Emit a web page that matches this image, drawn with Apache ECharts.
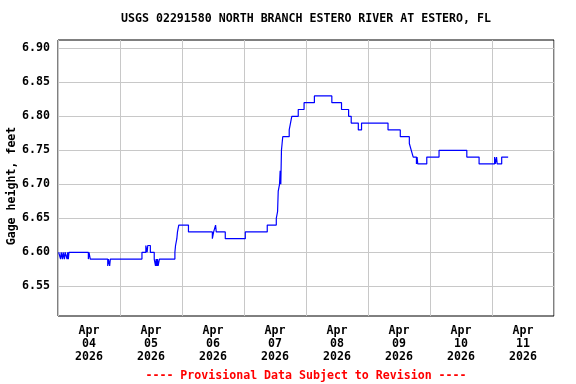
<!DOCTYPE html>
<html>
<head>
<meta charset="utf-8">
<script src="https://cdn.jsdelivr.net/npm/echarts@6/dist/echarts.min.js"></script>
<style>
html,body{margin:0;padding:0;background:#fff;}
#chart{width:576px;height:384px;}
</style>
</head>
<body>
<div id="chart"></div>
<script>
// Hours since Apr 04 2026 00:00 (change points of the step series)
const hours = [0.25,1.0,1.25,1.75,2.0,2.5,2.75,3.5,3.75,4.0,4.25,11.75,12.0,12.5,19.25,19.5,20.0,20.25,
  32.5,34.0,34.5,34.75,35.75,37.25,37.75,38.0,38.25,38.5,38.75,39.25,
  45.25,45.5,46.0,46.25,46.75,50.5,59.75,60.25,61.0,61.25,64.75,72.5,81.0,
  84.5,85.0,85.25,85.75,86.0,86.25,86.5,86.75,87.0,89.5,90.0,90.5,93.0,95.25,99.25,
  106.0,109.75,112.5,113.5,116.25,117.5,127.75,132.5,136.0,136.75,137.5,138.75,139.0,139.25,
  142.75,147.5,158.25,163.0,169.0,169.25,169.75,170.0,171.75,174.25];
const gage = [6.60,6.59,6.60,6.59,6.60,6.59,6.60,6.59,6.60,6.59,6.60,6.59,6.60,6.59,6.58,6.59,6.58,6.59,
  6.60,6.61,6.60,6.61,6.60,6.59,6.58,6.59,6.58,6.59,6.58,6.59,
  6.60,6.61,6.62,6.63,6.64,6.63,6.62,6.63,6.64,6.63,6.62,6.63,6.64,
  6.65,6.66,6.69,6.70,6.72,6.70,6.75,6.76,6.77,6.78,6.79,6.80,6.81,6.82,6.83,
  6.82,6.81,6.80,6.79,6.78,6.79,6.78,6.77,6.76,6.75,6.74,6.73,6.74,6.73,
  6.74,6.75,6.74,6.73,6.74,6.73,6.74,6.73,6.74,6.74];
const dayLabels = ['Apr\n04\n2026','Apr\n05\n2026','Apr\n06\n2026','Apr\n07\n2026','Apr\n08\n2026','Apr\n09\n2026','Apr\n10\n2026','Apr\n11\n2026'];
const yTicks = [6.55,6.60,6.65,6.70,6.75,6.80,6.85,6.90];
const titleText = 'USGS 02291580 NORTH BRANCH ESTERO RIVER AT ESTERO, FL';
const footerText = '---- Provisional Data Subject to Revision ----';
const yName = 'Gage height, feet';

const FONT = '"DejaVu Sans Mono", "Liberation Mono", monospace';
const chart = echarts.init(document.getElementById('chart'), null, {renderer: 'canvas'});
chart.setOption({
  animation: false,
  backgroundColor: '#ffffff',
  grid: {left: 58, right: 22, top: 40, bottom: 68, containLabel: false, outerBoundsMode: 'none',
         show: true, borderColor: '#000', borderWidth: 1, backgroundColor: 'transparent'},
  graphic: [
    {type: 'text', x: 306, y: 19, style: {text: titleText, fill: '#000', font: 'bold 11.6px ' + FONT, textAlign: 'center', textVerticalAlign: 'middle'}},
    {type: 'text', x: 306, y: 376, style: {text: footerText, fill: '#ff0000', font: 'bold 11.6px ' + FONT, textAlign: 'center', textVerticalAlign: 'middle'}},
    {type: 'text', x: 12, y: 186, rotation: Math.PI / 2, style: {text: yName, fill: '#000', font: 'bold 11.6px ' + FONT, textAlign: 'center', textVerticalAlign: 'middle'}}
  ],
  xAxis: [
    {type: 'value', min: 0, max: 192, interval: 24,
     axisLine: {show: false}, axisTick: {show: false}, axisLabel: {show: false},
     splitLine: {show: true, lineStyle: {color: '#c8c8c8', width: 1}}},
    {type: 'category', data: dayLabels, boundaryGap: true, position: 'bottom',
     axisLine: {show: false}, axisTick: {show: false}, splitLine: {show: false},
     axisLabel: {color: '#000', fontFamily: FONT, fontWeight: 'bold', fontSize: 11.6, lineHeight: 13, margin: 8, interval: 0}}
  ],
  yAxis: {
    type: 'value', min: 6.5063, max: 6.9122,
    axisLine: {show: false},
    axisTick: {show: false, customValues: yTicks},
    axisLabel: {customValues: yTicks, color: '#000', fontFamily: FONT, fontWeight: 'bold', fontSize: 11.6, margin: 8,
                formatter: v => v.toFixed(2)},
    splitLine: {show: true, lineStyle: {color: '#c8c8c8', width: 1}}
  },
  series: [{
    type: 'line', xAxisIndex: 0, step: 'end', showSymbol: false, symbol: 'none',
    lineStyle: {color: '#0000ff', width: 1.2},
    data: hours.map((h, i) => [h, gage[i]])
  }]
});
</script>
</body>
</html>
